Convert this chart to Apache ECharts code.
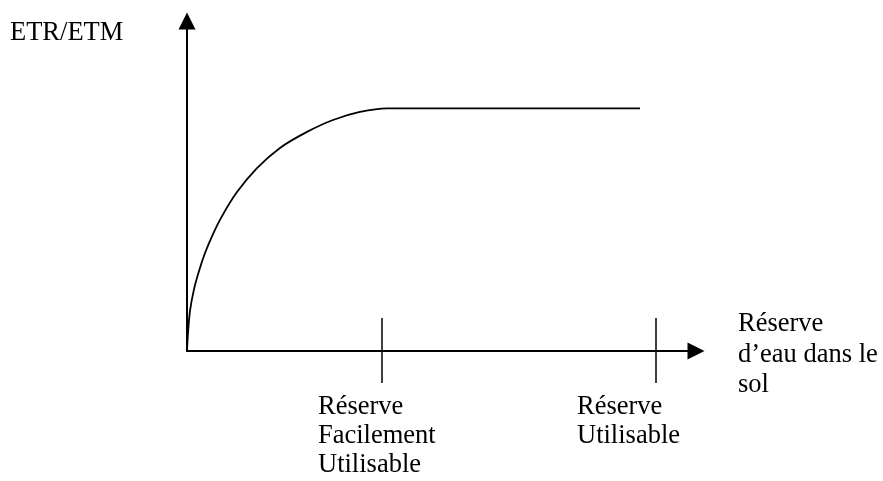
<!DOCTYPE html>
<html>
<head>
<meta charset="utf-8">
<style>
  html, body { margin: 0; padding: 0; background: #ffffff; }
  #chart { width: 883px; height: 481px; }
</style>
<script src="https://cdn.jsdelivr.net/npm/echarts@6/dist/echarts.min.js"></script>
</head>
<body>
<div id="chart"></div>
<script>
// ---- data ----
const curveX = [0, 0.2, 0.59, 1.38, 2.36, 3.54, 5.11, 6.88, 9.82, 13.75, 18.27, 23.58, 28.68, 33.99, 39.29, 89.0];
const curveY = [0, 0.074, 0.165, 0.255, 0.330, 0.404, 0.482, 0.556, 0.655, 0.754, 0.837, 0.903, 0.952, 0.985, 1.0, 1.0];
const tickValues = [38.25, 92.1];
const tickLabels = ['Réserve\nFacilement\nUtilisable', 'Réserve\nUtilisable'];
const yAxisTitle = 'ETR/ETM';
const xAxisTitle = 'Réserve\nd\u2019eau dans le\nsol';

const FONT = '"Liberation Serif", "Times New Roman", serif';
const curveData = curveX.map((x, i) => [x, curveY[i]]);

const chart = echarts.init(document.getElementById('chart'), null, { renderer: 'canvas' });

const textStyle = { fill: '#000', fontSize: 26.5, fontFamily: FONT };

chart.setOption({
  animation: false,
  backgroundColor: '#ffffff',
  grid: { left: 187, right: 187, top: 21, bottom: 130, containLabel: false },
  xAxis: [
    {
      type: 'value', min: 0, max: 100, position: 'bottom',
      axisLine: { show: true, symbol: ['none', 'triangle'], symbolSize: [17, 17],
                  lineStyle: { color: '#000', width: 2 } },
      axisTick: { show: true, customValues: tickValues, inside: false, length: 32,
                  lineStyle: { color: '#000', width: 1.5 } },
      axisLabel: { show: false },
      splitLine: { show: false }
    },
    {
      type: 'value', min: 0, max: 100, position: 'bottom', offset: 0,
      axisLine: { show: false },
      axisTick: { show: true, customValues: tickValues, inside: true, length: 33,
                  lineStyle: { color: '#000', width: 1.5 } },
      axisLabel: { show: false },
      splitLine: { show: false }
    }
  ],
  yAxis: {
    type: 'value', min: 0, max: 1.36,
    axisLine: { show: true, symbol: ['none', 'triangle'], symbolSize: [17, 17],
                lineStyle: { color: '#000', width: 2 } },
    axisTick: { show: false },
    axisLabel: { show: false },
    splitLine: { show: false }
  },
  series: [{
    type: 'line',
    data: curveData,
    smooth: 0.35,
    showSymbol: false,
    clip: false,
    lineStyle: { color: '#000', width: 1.8 }
  }],
  graphic: [
    { type: 'text', left: 10, top: 19,
      style: Object.assign({ text: yAxisTitle, lineHeight: 29 }, textStyle) },
    { type: 'text', left: 738, top: 309,
      style: Object.assign({ text: xAxisTitle, lineHeight: 30.5 }, textStyle) },
    { type: 'text', left: 318, top: 393,
      style: Object.assign({ text: tickLabels[0], lineHeight: 29 }, textStyle) },
    { type: 'text', left: 577, top: 393,
      style: Object.assign({ text: tickLabels[1], lineHeight: 29 }, textStyle) }
  ]
});
</script>
</body>
</html>
